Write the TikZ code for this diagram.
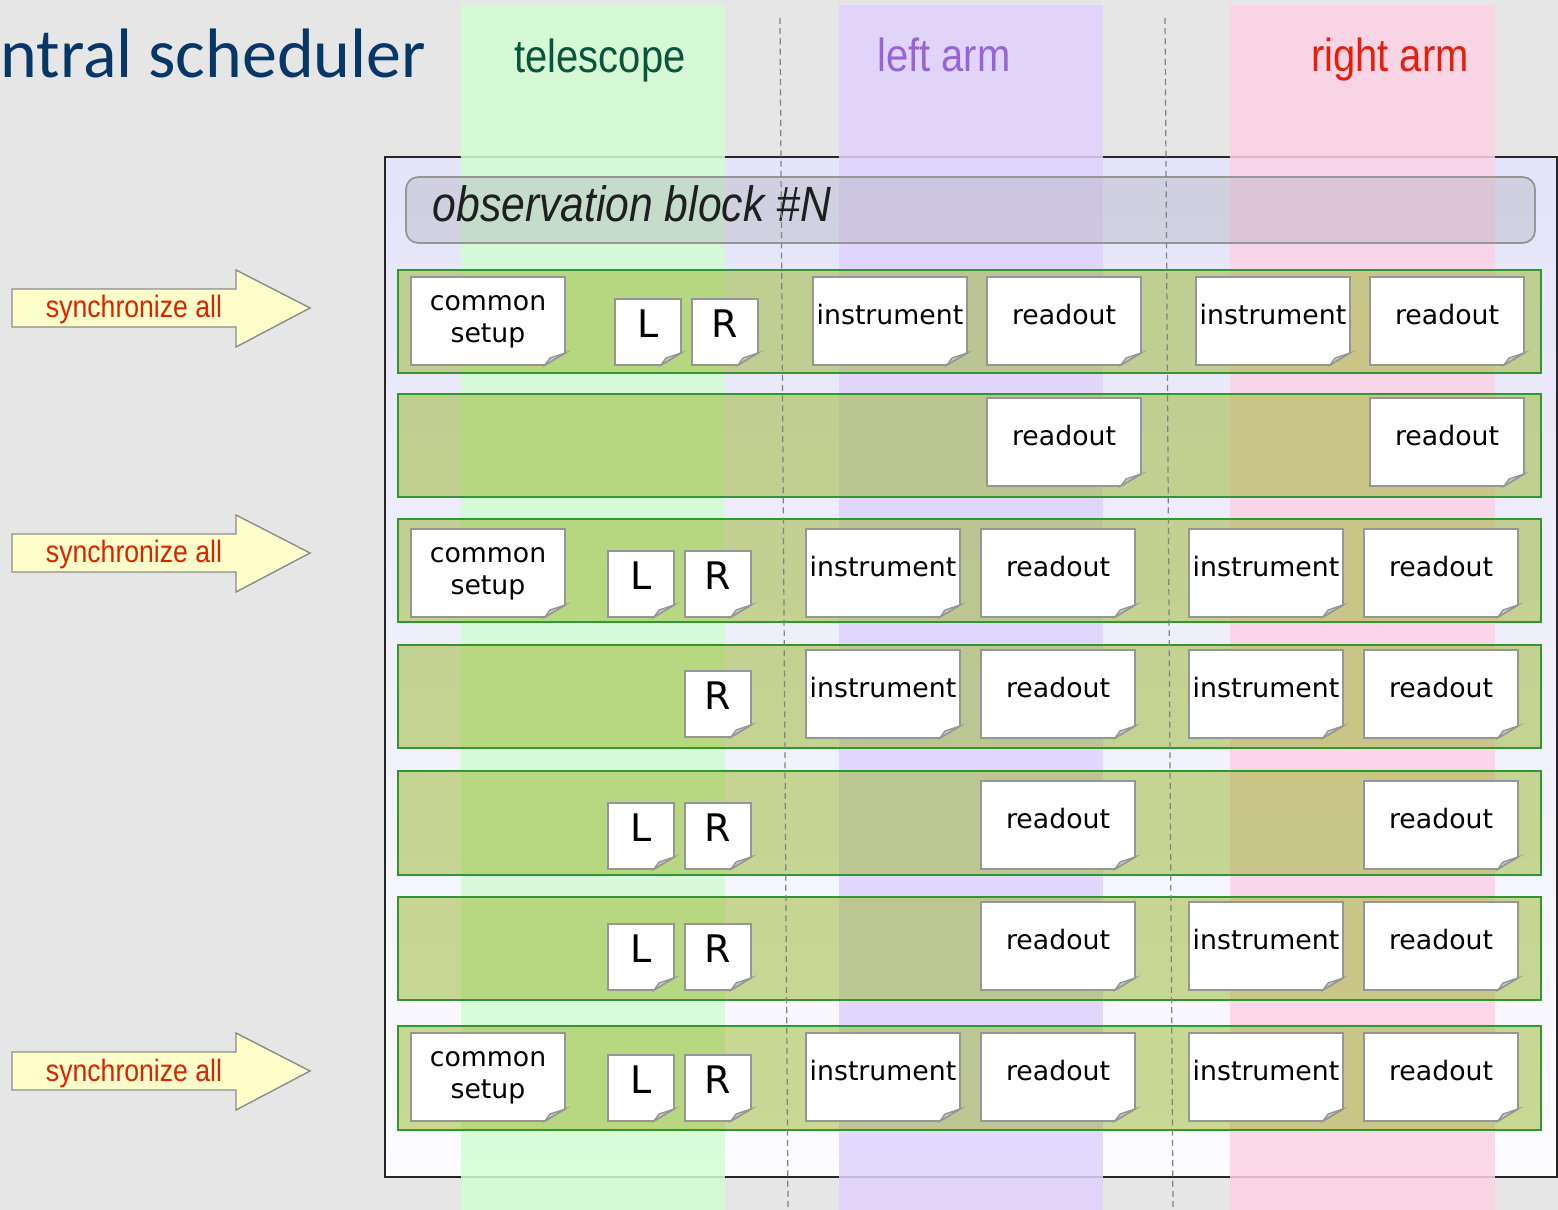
\documentclass[tikz,border=0pt]{standalone}
\usepackage{fontspec}
\setmainfont{DejaVu Sans}
\newfontfamily\narrowsans[FakeStretch=0.86]{Liberation Sans}
\newfontfamily\titlefont{Carlito}

\definecolor{canvas}{RGB}{230,230,230}
\definecolor{titleblue}{RGB}{6,55,102}
\definecolor{telcol}{RGB}{211,252,211}
\definecolor{leftcol}{RGB}{223,211,253}
\definecolor{rightcol}{RGB}{252,210,229}
\definecolor{teltext}{RGB}{10,85,60}
\definecolor{lefttext}{RGB}{150,100,215}
\definecolor{righttext}{RGB}{230,30,10}
\definecolor{boxtop}{RGB}{228,228,250}
\definecolor{boxbottom}{RGB}{252,252,255}
\definecolor{rowfill}{RGB}{152,182,40}
\definecolor{rowline}{RGB}{50,150,50}
\definecolor{obsfill}{RGB}{170,170,180}
\definecolor{obsline}{RGB}{150,150,150}
\definecolor{cardline}{RGB}{150,150,150}
\definecolor{foldfill}{RGB}{200,200,200}
\definecolor{arrowfill}{RGB}{255,255,204}
\definecolor{arrowline}{RGB}{140,140,140}
\definecolor{synctext}{RGB}{220,35,0}
\definecolor{laneline}{RGB}{130,130,130}

\tikzset{
  column/.style={opacity=0.85},
  rowband/.style={fill=rowfill, fill opacity=0.5, draw=rowline, line width=0.45pt},
  lane/.style={draw=laneline, line width=0.35pt, dash pattern=on 1.7pt off 1.2pt},
  cardbody/.style={fill=white, draw=cardline, line width=0.5pt, line join=miter},
  cardfold/.style={fill=foldfill, draw=cardline, line width=0.4pt},
  cardtext/.style={font=\fontsize{7.6pt}{9.1pt}\selectfont, align=center, inner sep=0pt, text=black},
  setuptext/.style={cardtext, yshift=-0.07cm},
  lettertext/.style={font=\fontsize{10.8pt}{12pt}\selectfont, inner sep=0pt, text=black, yshift=0.02cm},
  lanelabel/.style={font=\narrowsans\fontsize{13.2pt}{15pt}\selectfont, anchor=base, inner sep=0pt},
  syncarrow/.style={fill=arrowfill, draw=arrowline, line width=0.4pt, line join=miter},
  synclabel/.style={font=\narrowsans\fontsize{8.8pt}{10pt}\selectfont, text=synctext, inner sep=0pt},
}

% card with a curled bottom-right corner: name, x1, y1, x2, y2, text
\newcommand{\notecard}[7][cardtext]{%
  \path[cardbody] (#3,#4) -- (#5,#4) -- (#5,#6-12) -- (#5-20,#6) -- (#3,#6) -- cycle;
  \path[cardfold] (#5-20,#6) -- (#5,#6-12) -- (#5-15,#6-7) -- cycle;
  \node[#1] (#2) at ({(#3+#5)/2},{(#4+#6)/2-6}) {#7};
}

% block arrow pointing right, centred on height c
\newcommand{\syncarrowat}[2]{%
  \path[syncarrow] (12,#2-19) -- (236,#2-19) -- (236,#2-38) -- (310,#2)
    -- (236,#2+39) -- (236,#2+19) -- (12,#2+19) -- cycle;
  \node[synclabel] (#1) at (134,#2+2) {synchronize all};
}

\begin{document}
\begin{tikzpicture}[x=0.01cm, y=-0.01cm]
\useasboundingbox (0,0) rectangle (1558,1210);
\fill[canvas] (0,0) rectangle (1558,1210);

% title
\node[font=\titlefont\fontsize{19.9pt}{22pt}\selectfont, text=titleblue, anchor=base west, inner sep=0pt]
  (title) at (0,78) {ntral scheduler};

% scheduler frame
\shade[top color=boxtop, bottom color=boxbottom] (385,157) rectangle (1557,1177);
\draw[line width=0.4pt, black!85] (385,157) rectangle (1557,1177);

% subsystem lanes
\fill[telcol, column] (461,5) rectangle (725,1210);
\fill[leftcol, column] (839,5) rectangle (1103,1210);
\fill[rightcol, column] (1230,5) rectangle (1495,1210);

\node[lanelabel, text=teltext] (tel) at (600,73) {telescope};
\node[lanelabel, text=lefttext] (larm) at (944,72) {left arm};
\node[lanelabel, text=righttext] (rarm) at (1390,72) {right arm};

% observation block header
\path[fill=obsfill, fill opacity=0.35, draw=obsline, line width=0.5pt, rounded corners=3.5pt]
  (406,177) rectangle (1535,243);
\node[font=\narrowsans\itshape\fontsize{14.1pt}{16pt}\selectfont, text=black!88, anchor=base west, inner sep=0pt]
  (obs) at (432,222) {observation block \#N};

% step rows
\foreach \ya/\yb in {270/373, 394/497, 519/622, 645/748, 771/875, 897/1000, 1026/1130}
  \path[rowband] (398,\ya) rectangle (1541,\yb);

% lane separators
\draw[lane] (780,18) -- (788,1210);
\draw[lane] (1165,18) -- (1173,1210);

% row 1
\notecard[setuptext]{r1cs}{411}{277}{565}{365}{common\\setup}
\notecard[lettertext]{r1L}{615}{299}{681}{365}{L}
\notecard[lettertext]{r1R}{692}{299}{758}{365}{R}
\notecard{r1ia}{813}{277}{967}{365}{instrument}
\notecard{r1oa}{987}{277}{1141}{365}{readout}
\notecard{r1ib}{1196}{277}{1350}{365}{instrument}
\notecard{r1ob}{1370}{277}{1524}{365}{readout}

% row 2
\notecard{r2oa}{987}{398}{1141}{486}{readout}
\notecard{r2ob}{1370}{398}{1524}{486}{readout}

% row 3
\notecard[setuptext]{r3cs}{411}{529}{565}{617}{common\\setup}
\notecard[lettertext]{r3L}{608}{551}{674}{617}{L}
\notecard[lettertext]{r3R}{685}{551}{751}{617}{R}
\notecard{r3ia}{806}{529}{960}{617}{instrument}
\notecard{r3oa}{981}{529}{1135}{617}{readout}
\notecard{r3ib}{1189}{529}{1343}{617}{instrument}
\notecard{r3ob}{1364}{529}{1518}{617}{readout}

% row 4
\notecard[lettertext]{r4R}{685}{671}{751}{737}{R}
\notecard{r4ia}{806}{650}{960}{738}{instrument}
\notecard{r4oa}{981}{650}{1135}{738}{readout}
\notecard{r4ib}{1189}{650}{1343}{738}{instrument}
\notecard{r4ob}{1364}{650}{1518}{738}{readout}

% row 5
\notecard[lettertext]{r5L}{608}{803}{674}{869}{L}
\notecard[lettertext]{r5R}{685}{803}{751}{869}{R}
\notecard{r5oa}{981}{781}{1135}{869}{readout}
\notecard{r5ob}{1364}{781}{1518}{869}{readout}

% row 6
\notecard[lettertext]{r6L}{608}{924}{674}{990}{L}
\notecard[lettertext]{r6R}{685}{924}{751}{990}{R}
\notecard{r6oa}{981}{902}{1135}{990}{readout}
\notecard{r6ib}{1189}{902}{1343}{990}{instrument}
\notecard{r6ob}{1364}{902}{1518}{990}{readout}

% row 7
\notecard[setuptext]{r7cs}{411}{1033}{565}{1121}{common\\setup}
\notecard[lettertext]{r7L}{608}{1055}{674}{1121}{L}
\notecard[lettertext]{r7R}{685}{1055}{751}{1121}{R}
\notecard{r7ia}{806}{1033}{960}{1121}{instrument}
\notecard{r7oa}{981}{1033}{1135}{1121}{readout}
\notecard{r7ib}{1189}{1033}{1343}{1121}{instrument}
\notecard{r7ob}{1364}{1033}{1518}{1121}{readout}

% synchronisation points
\syncarrowat{syncA}{308}
\syncarrowat{syncB}{553}
\syncarrowat{syncC}{1071}
\end{tikzpicture}
\end{document}
